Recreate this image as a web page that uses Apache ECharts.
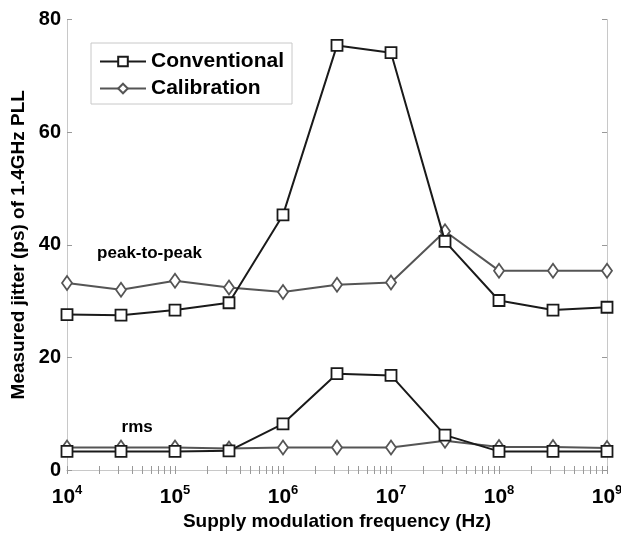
<!DOCTYPE html>
<html><head><meta charset="utf-8">
<script src="https://cdn.jsdelivr.net/npm/echarts@6/dist/echarts.min.js"></script>
<style>html,body{margin:0;padding:0;background:#fff}#c{width:621px;height:533px}</style>
</head><body><div id="c"></div>
<script>
const freqs = [1e4, 31623, 1e5, 316228, 1e6, 3162278, 1e7, 31622777, 1e8, 316227766, 1e9];
const convPP = [27.6, 27.5, 28.4, 29.7, 45.3, 75.4, 74.1, 40.6, 30.1, 28.4, 28.9];
const calPP  = [33.2, 32.0, 33.6, 32.4, 31.6, 32.9, 33.3, 42.4, 35.4, 35.4, 35.4];
const convRMS = [3.3, 3.3, 3.3, 3.4, 8.2, 17.1, 16.8, 6.2, 3.3, 3.3, 3.3];
const calRMS  = [4.0, 4.0, 4.0, 3.8, 4.0, 4.0, 4.0, 5.2, 4.1, 4.1, 3.9];
const yTicks = [0, 20, 40, 60, 80];
const annotations = [{text: 'peak-to-peak', x: 1.9e4, y: 38.5}, {text: 'rms', x: 3.2e4, y: 7.6}];

const FONT = 'Liberation Sans';
const convColor = '#1a1a1a', calColor = '#555555';
const minorTicks = [];
for (let d = 4; d < 9; d++) for (let k = 1; k <= 9; k++) minorTicks.push(k * Math.pow(10, d));
minorTicks.push(1e9);
const pairs = (ys) => freqs.map((f, i) => [f, ys[i]]);

function mk(name, ys, color, sym, size) {
  return {
    name, type: 'line', data: pairs(ys), symbol: sym, symbolSize: size,
    lineStyle: {color, width: 2}, itemStyle: {color: '#fff', borderColor: color, borderWidth: 1.8},
    emphasis: {disabled: true}, z: color === convColor ? 3 : 2, animation: false
  };
}
const series = [
  mk('Calibration', calPP, calColor, 'diamond', [10, 14]),
  mk('Conventional', convPP, convColor, 'rect', 11),
  mk('Calibration', calRMS, calColor, 'diamond', [10, 14]),
  mk('Conventional', convRMS, convColor, 'rect', 11),
  {
    type: 'scatter', data: annotations.map(a => [a.x, a.y, a.text]), symbolSize: 0,
    itemStyle: {opacity: 1},
    label: {show: true, position: 'right', distance: 0, formatter: p => p.value[2], color: '#000',
      fontFamily: FONT, fontWeight: 'bold', fontSize: 17},
    silent: true, animation: false
  }
];
const axisLineStyle = {lineStyle: {color: '#c8c8c8', width: 1}};
const chart = echarts.init(document.getElementById('c'));
chart.setOption({
  animation: false,
  grid: {left: 67, right: 14, top: 19.5, bottom: 63, containLabel: false, outerBoundsMode: 'none'},
  legend: {
    data: ['Conventional', 'Calibration'], left: 91, top: 43, orient: 'vertical',
    padding: [8, 8, 5, 8], itemGap: 6, itemWidth: 46, itemHeight: 12,
    borderColor: '#c8c8c8', borderWidth: 1, backgroundColor: '#fff',
    textStyle: {fontFamily: FONT, fontWeight: 'bold', fontSize: 21, color: '#000'}
  },
  xAxis: [{
    type: 'log', logBase: 10, min: 1e4, max: 1e9, position: 'bottom',
    name: 'Supply modulation frequency (Hz)', nameLocation: 'middle', nameGap: 40,
    nameTextStyle: {fontFamily: FONT, fontWeight: 'bold', fontSize: 19, color: '#000'},
    axisLine: axisLineStyle, splitLine: {show: false},
    axisTick: {show: true, inside: true, length: 4, customValues: minorTicks, lineStyle: {color: '#999'}},
    axisLabel: {
      margin: 14,
      formatter: v => '{b|10}{s|' + Math.round(Math.log10(v)) + '}',
      rich: {b: {fontFamily: FONT, fontWeight: 'bold', fontSize: 21, color: '#000'},
             s: {fontFamily: FONT, fontWeight: 'bold', fontSize: 13, color: '#000', verticalAlign: 'bottom', padding: [0, 0, 13, 0]}}
    }
  }, {
    type: 'log', logBase: 10, min: 1e4, max: 1e9, position: 'top',
    axisLine: axisLineStyle, splitLine: {show: false},
    axisTick: {show: true, inside: true, length: 4, customValues: minorTicks, lineStyle: {color: '#999'}},
    axisLabel: {show: false}
  }],
  yAxis: [{
    type: 'value', min: 0, max: 80, interval: 20, position: 'left',
    name: 'Measured jitter (ps) of 1.4GHz PLL', nameLocation: 'middle', nameGap: 38,
    nameTextStyle: {fontFamily: FONT, fontWeight: 'bold', fontSize: 19, color: '#000'},
    axisLine: {show: true, lineStyle: {color: '#c8c8c8'}}, splitLine: {show: false},
    axisTick: {show: true, inside: true, length: 5, lineStyle: {color: '#999'}},
    axisLabel: {fontFamily: FONT, fontWeight: 'bold', fontSize: 20, color: '#000', margin: 6,
      formatter: v => yTicks.includes(v) ? String(v) : ''}
  }, {
    type: 'value', min: 0, max: 80, interval: 20, position: 'right',
    axisLine: {show: true, lineStyle: {color: '#c8c8c8'}}, splitLine: {show: false},
    axisTick: {show: true, inside: true, length: 5, lineStyle: {color: '#999'}},
    axisLabel: {show: false}
  }],
  series
});
</script></body></html>
